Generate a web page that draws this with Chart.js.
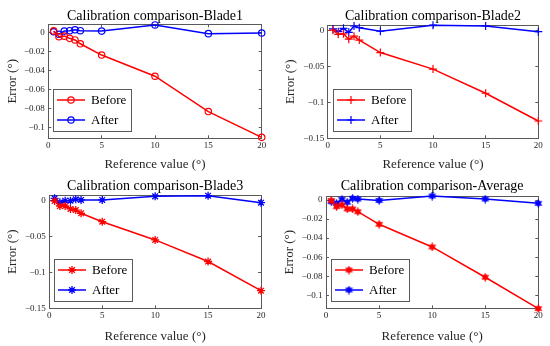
<!DOCTYPE html>
<html>
<head>
<meta charset="utf-8">
<script src="https://cdn.jsdelivr.net/npm/chart.js@4.4.0/dist/chart.umd.min.js"></script>
<style>
  body { margin: 0; background: #fff; }
  .panel { position: absolute; width: 275px; height: 173px; }
</style>
</head>
<body>
<div class="panel" style="left:0;top:0"><canvas id="blade1" width="275" height="173"></canvas></div>
<div class="panel" style="left:275px;top:0"><canvas id="blade2" width="275" height="173"></canvas></div>
<div class="panel" style="left:0;top:173px"><canvas id="blade3" width="275" height="173"></canvas></div>
<div class="panel" style="left:275px;top:173px"><canvas id="average" width="275" height="173"></canvas></div>
<script>
// reference angles (deg)
var refValues = [0.5, 1, 1.5, 2, 2.5, 3, 5, 10, 15, 20];

var blade1Before = [0.0015, -0.0046, -0.004, -0.0063, -0.008, -0.012, -0.0238, -0.046, -0.083, -0.110];
var blade1After  = [0.0006, -0.002, 0.0013, 0.0017, 0.0027, 0.0017, 0.0013, 0.0077, -0.0014, -0.0007];

var blade2Before = [0, -0.0057, -0.005, -0.0125, -0.0083, -0.0137, -0.031, -0.054, -0.0875, -0.126];
var blade2After  = [0.0017, -0.002, 0.0026, -0.003, 0.0058, 0.0035, -0.0015, 0.007, 0.0058, -0.002];

var blade3Before = [-0.001, -0.0079, -0.0079, -0.012, -0.0135, -0.018, -0.0297, -0.055, -0.085, -0.1255];
var blade3After  = [0.0028, -0.0028, -0.0005, -0.0005, 0.0014, 0.0005, 0.0005, 0.0055, 0.0064, -0.0033];

var averageBefore = [-0.0005, -0.007, -0.0052, -0.0094, -0.0094, -0.0123, -0.0255, -0.0493, -0.0811, -0.114];
var averageAfter  = [-0.0018, -0.0035, 0.0007, -0.0024, 0.0018, 0.001, -0.0005, 0.0042, 0.001, -0.0035];

var seriesLabels = ['Before', 'After'];
var xTicks = [0, 5, 10, 15, 20];
var yTicksFine = [0, -0.02, -0.04, -0.06, -0.08, -0.1];
var yTicksCoarse = [0, -0.05, -0.1, -0.15];

var serif = 'Liberation Serif';
var axisColor = '#5a5a5a';
var textColor = '#262626';

function fmtTick(v) {
  var s = String(+Number(v).toFixed(3));
  return s.replace('-', '\u2212');
}

function hexagram(color) {
  var c = document.createElement('canvas');
  c.width = 9; c.height = 9;
  var g = c.getContext('2d');
  g.fillStyle = color;
  g.beginPath();
  for (var k = 0; k < 12; k++) {
    var r = k % 2 ? 2.5 : 4.6;
    var a = Math.PI / 6 * k - Math.PI / 2;
    g.lineTo(4.5 + r * Math.cos(a), 4.5 + r * Math.sin(a));
  }
  g.closePath();
  g.fill();
  return c;
}

// MATLAB style legend box in the lower left corner of the axes
var boxLegend = {
  id: 'boxLegend',
  afterDatasetsDraw: function (chart) {
    var ctx = chart.ctx, area = chart.chartArea;
    var w = 78, h = 42;
    var bx = Math.round(area.left + 5), by = Math.round(area.bottom - 7 - h);
    ctx.save();
    ctx.fillStyle = '#fff';
    ctx.fillRect(bx, by, w, h);
    ctx.strokeStyle = axisColor;
    ctx.lineWidth = 1;
    ctx.strokeRect(bx + 0.5, by + 0.5, w, h);
    chart.data.datasets.forEach(function (ds, i) {
      var y = by + 11 + i * 20;
      ctx.strokeStyle = ds.borderColor;
      ctx.lineWidth = ds.borderWidth;
      ctx.beginPath();
      ctx.moveTo(bx + 4, y);
      ctx.lineTo(bx + 32, y);
      ctx.stroke();
      ctx.fillStyle = ds.pointBackgroundColor;
      ctx.lineWidth = ds.pointBorderWidth;
      Chart.helpers.drawPoint(ctx, {
        pointStyle: ds.pointStyle, rotation: 0,
        radius: ds.pointRadius, borderWidth: ds.pointBorderWidth
      }, bx + 18, y);
      ctx.fillStyle = '#000';
      ctx.font = '13px "' + serif + '"';
      ctx.textBaseline = 'middle';
      ctx.textAlign = 'left';
      ctx.fillText(ds.label, bx + 38, y + 1);
    });
    ctx.restore();
  }
};

function makeDataset(label, values, color, marker) {
  return {
    label: label,
    data: refValues.map(function (x, i) { return { x: x, y: values[i] }; }),
    borderColor: color,
    backgroundColor: color,
    borderWidth: 1.5,
    tension: 0,
    clip: 8,
    pointStyle: marker.style === 'hexagram' ? hexagram(color) : marker.style,
    pointRadius: marker.radius,
    pointBorderWidth: marker.width,
    pointBorderColor: color,
    pointBackgroundColor: marker.filled ? color : 'rgba(0,0,0,0)'
  };
}

function tickAxis(position, min, max, ticks, size, showLabels, extra) {
  var ax = {
    type: 'linear',
    position: position,
    min: min,
    max: max,
    bounds: 'data',
    afterBuildTicks: function (s) { s.ticks = ticks.map(function (v) { return { value: v }; }); },
    afterFit: function (s) {
      if (position === 'top' || position === 'bottom') s.height = size; else s.width = size;
    },
    grid: { drawOnChartArea: false, drawTicks: true, tickLength: -3, color: axisColor, lineWidth: 1 },
    border: { display: true, color: axisColor, width: 1 },
    ticks: {
      display: showLabels,
      autoSkip: false,
      maxRotation: 0,
      color: textColor,
      font: { family: serif, size: 9 },
      callback: fmtTick
    }
  };
  if (extra) Object.assign(ax, extra);
  return ax;
}

function makeChart(id, title, before, after, marker, yMin, yMax, yTicks, box) {
  var W = 275, H = 173;
  var titleH = 14 + box.titlePad;
  var x = tickAxis('bottom', 0, 20, xTicks, H - box.bottom, true, {
    title: { display: true, text: 'Reference value (\u00b0)', color: textColor,
             font: { family: serif, size: 13 }, padding: { top: 0, bottom: box.xTitlePad } }
  });
  x.ticks.padding = 5;
  var y = tickAxis('left', yMin, yMax, yTicks, box.left, true, {
    title: { display: true, text: 'Error (\u00b0)', color: textColor,
             font: { family: serif, size: 13 }, padding: { top: box.yTitlePad, bottom: 0 } }
  });
  y.ticks.padding = 6.5;
  var x2 = tickAxis('top', 0, 20, xTicks, Math.max(0, box.top - titleH), false);
  var y2 = tickAxis('right', yMin, yMax, yTicks, W - box.right, false);

  return new Chart(document.getElementById(id), {
    type: 'line',
    data: {
      datasets: [
        makeDataset(seriesLabels[0], before, '#ff0000', marker),
        makeDataset(seriesLabels[1], after, '#0000ff', marker)
      ]
    },
    options: {
      responsive: false,
      animation: false,
      devicePixelRatio: 1,
      layout: { padding: 0 },
      scales: { x: x, y: y, x2: x2, y2: y2 },
      plugins: {
        legend: { display: false },
        tooltip: { enabled: false },
        title: {
          display: true, text: title, fullSize: false, color: '#000',
          font: { family: serif, size: 14, weight: 'normal', lineHeight: 1 },
          padding: { top: box.titlePad, bottom: 0 }
        }
      }
    },
    plugins: [boxLegend]
  });
}

makeChart('blade1', 'Calibration comparison-Blade1', blade1Before, blade1After,
  { style: 'circle', radius: 3.2, width: 1.2, filled: false },
  -0.111, 0.0084, yTicksFine,
  { left: 48.3, top: 24.3, right: 261.7, bottom: 138.3, titlePad: 9, yTitlePad: 5, xTitlePad: 1 });

makeChart('blade2', 'Calibration comparison-Blade2', blade2Before, blade2After,
  { style: 'cross', radius: 4, width: 1.2, filled: false },
  -0.15, 0.0072, yTicksCoarse,
  { left: 52.7, top: 25, right: 263.3, bottom: 138.3, titlePad: 9, yTitlePad: 7.4, xTitlePad: 1 });

makeChart('blade3', 'Calibration comparison-Blade3', blade3Before, blade3After,
  { style: 'star', radius: 4, width: 1.3, filled: false },
  -0.15, 0.0074, yTicksCoarse,
  { left: 49.3, top: 22, right: 261, bottom: 135.3, titlePad: 6, yTitlePad: 5, xTitlePad: 2 });

makeChart('average', 'Calibration comparison-Average', averageBefore, averageAfter,
  { style: 'hexagram', radius: 4.5, width: 1, filled: true },
  -0.1137, 0.0042, yTicksFine,
  { left: 51, top: 23, right: 263.3, bottom: 135.3, titlePad: 6, yTitlePad: 6.4, xTitlePad: 2 });
</script>
</body>
</html>
